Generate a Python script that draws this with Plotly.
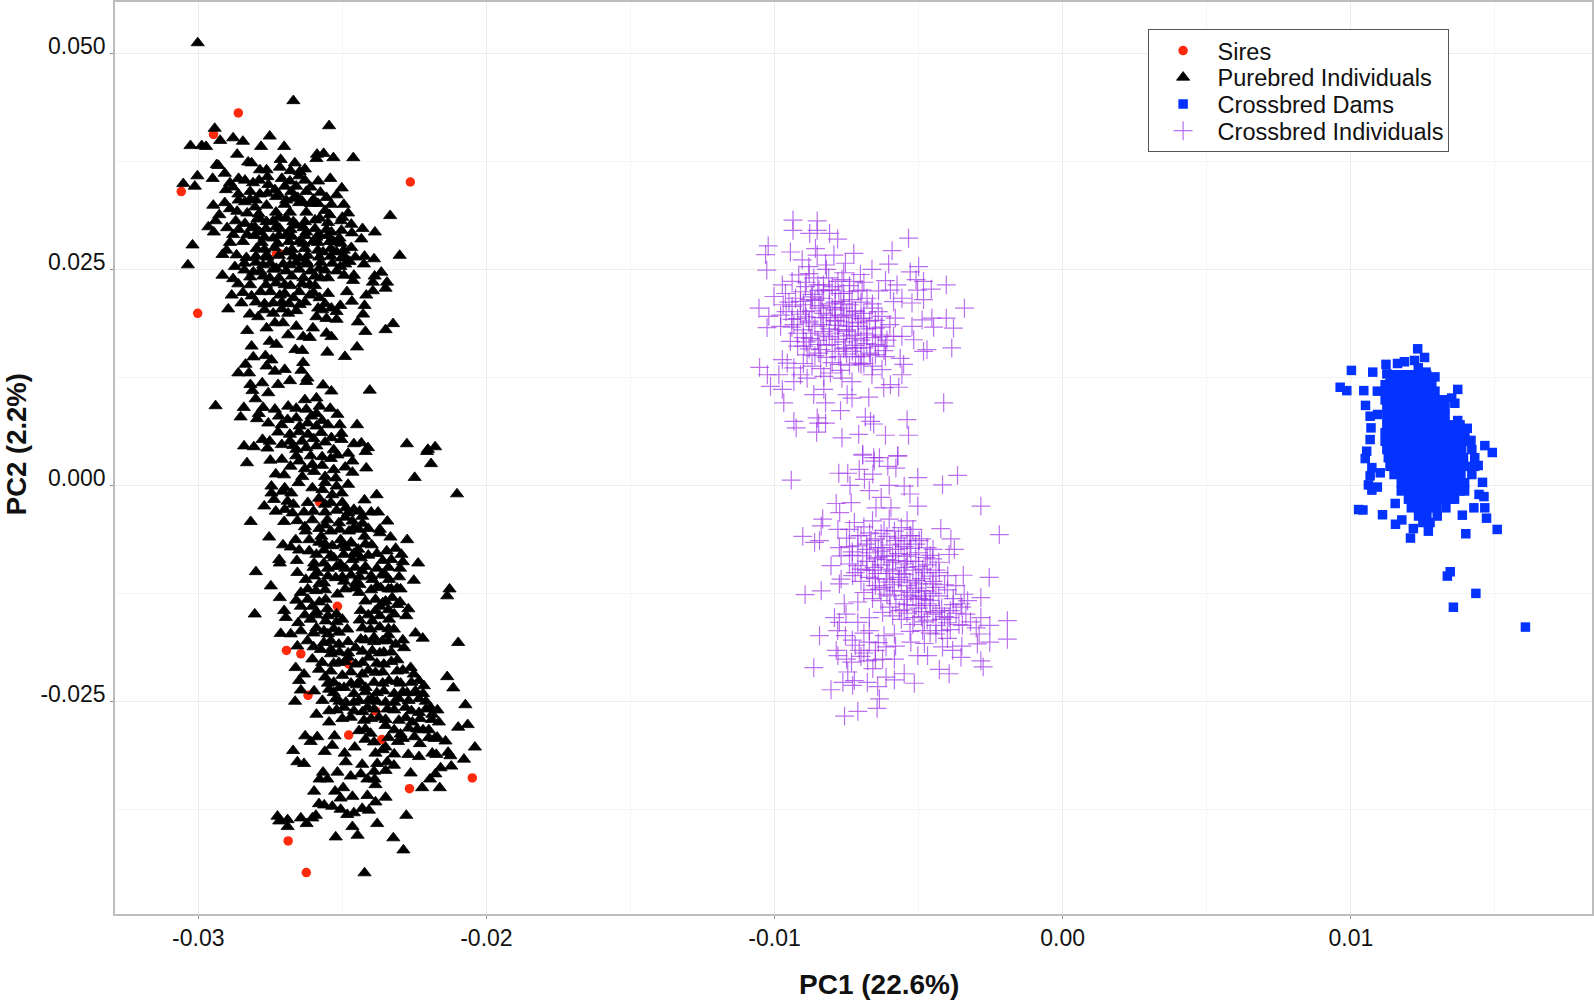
import plotly.graph_objects as go

# All PC values below are in units of 0.001
sire_points = [(-28.61,43.1),(-29.47,40.6),(-30.59,34),(-22.64,35.1),(-30.02,19.9),(-27.29,26.8),(-27.17,26.8),
(-25.79,-1.95),(-26.94,-19.1),(-26.44,-19.5),(-26.19,-24.3),(-25.17,-14),(-24.77,-20.7),(-23.85,-26.1),
(-24.78,-28.9),(-23.63,-29.4),(-22.67,-35.1),(-20.49,-33.85),(-26.88,-41.15),(-26.25,-44.8)]

pure_points = [(-30.02,51.2),(-26.7,44.5),(-25.46,41.6),(-29.43,41.3),(-30.27,39.3),(-29.88,39.3),(-29.73,39.2),(-29.24,39.9),
(-28.79,40.2),(-28.45,39.8),(-27.52,40.4),(-27.82,39.2),(-27.02,39.2),(-28.65,38.3),(-25.88,38.3),(-25.65,38.4),(-25.9,37.8),
(-25.31,37.9),(-24.62,37.9),(-28.27,37.4),(-28.15,37.3),(-27.14,37.7),(-27.17,36.8),(-26.65,37.3),(-29.36,37.1),(-29.3,37.0),
(-29.08,36.1),(-29.5,35.5),(-30.03,35.8),(-30.52,34.9),(-30.12,34.6),(-27.86,36.5),(-27.63,36.5),(-26.48,36.3),(-25.84,35.2),
(-25.42,35.5),(-25.02,34.4),(-28.38,35.3),(-27.89,35.3),(-27.57,34.8),(-26.82,35.2),(-26.3,35.3),(-29.04,34.2),(-28.61,33.7),
(-28.2,34),(-27.86,33.7),(-27.34,34.2),(-26.77,34),(-26.25,34),(-25.76,33.9),(-29.08,32.7),(-29.48,32.4),(-28.65,31.7),(-29.27,31.3),
(-28.38,32.8),(-28.03,32.2),(-27.63,32.4),(-26.82,31.6),(-26.25,31.6),(-25.84,32.6),(-25.38,32.5),(-25.44,31.3),(-23.34,31.2),
(-24.69,30.2),(-25.79,30.9),(-23.87,29.3),(-25.03,29.5),(-24.67,29.2),(-24.34,28.5),(-25.38,29.3),(-29.65,29.9),(-29.46,29.3),
(-29,29.8),(-28.79,29),(-28.38,30.3),(-28.04,29.9),(-27.63,30.5),(-27.17,29.7),(-26.6,30.1),(-26.25,29.3),(-25.8,29),(-25.3,28.2),
(-28.3,29),(-27.87,29.3),(-27.4,28.6),(-26.94,29),(-26.5,28.2),(-30.2,27.8),(-30.36,25.5),(-29.16,26.7),(-29.02,27.2),(-28.67,26.65),
(-28.33,26.35),(-27.98,27.4),(-27.63,26.65),(-26.94,27),(-26.48,26.3),(-26.02,28.2),(-25.67,27),(-25.2,27),(-24.69,27.5),(-24.75,25.9),
(-24.23,26.5),(-23.9,26.2),(-24.25,25.6),(-23.01,26.6),(-25.03,26.3),(-28.73,25.3),(-29.16,24.3),(-28.79,23.9),(-28.09,24.7),
(-27.75,25.5),(-27.29,25.1),(-26.82,25.5),(-26.25,25.9),(-25.8,25.1),(-25.07,25.3),(-24.94,24.3),(-24.6,24.3),(-23.65,24.65),
(-23.88,24.2),(-23.94,23.5),(-23.45,23.5),(-23.5,22.8),(-24.63,23.7),(-28.61,23.3),(-28.2,23.2),(-27.52,24),(-27.0,23.2),(-26.13,23.2),
(-25.75,24),(-28.84,22),(-28.5,21.1),(-28.15,21.9),(-27.84,22.4),(-27.17,22),(-26.7,21.7),(-26.13,22),(-25.79,21.7),(-24.84,22.4),
(-23.94,22.5),(-24.17,22),(-24.67,21.3),(-24.23,20.8),(-28.96,20.4),(-28.21,19.8),(-27.92,19.5),(-27.4,21.1),(-27.4,19.9),(-26.88,19.9),
(-26.48,20.9),(-25.84,20.5),(-25.38,20.5),(-25.07,20.8),(-24.28,19.8),(-25.9,19.5),(-25.55,19.3),(-25.2,19.2),(-24.46,18.9),(-23.24,18.7),
(-23.5,18),(-24.2,17.8),(-28.3,17.9),(-27.63,18.2),(-27.34,18.8),(-27.06,18.8),(-26.6,18.4),(-26.88,17.4),(-26.36,17.2),(-26.13,17.1),
(-26.02,18.2),(-25.55,17.6),(-25.38,17.2),(-28.15,16.1),(-27.52,16.65),(-27.29,16.3),(-26.63,15.7),(-26.39,15.6),(-25.52,15.4),
(-24.49,16),(-24.91,14.9),(-28.09,14.85),(-27.67,15),(-27.46,14.5),(-28.36,14),(-27.63,13.8),(-26.36,14.2),(-28.61,13),(-28.24,13),
(-27.34,13.2),(-27,13.4),(-26.42,13.3),(-26.21,12.4),(-28.19,11.65),(-27.78,11.85),(-27.23,11.65),(-26.82,12.1),(-26.25,12),(-25.67,11.6),
(-25.38,10.9),(-24.05,11),(-28.12,10.95),(-27.57,10.7),(-28.01,10),(-29.4,9.2),(-28.42,9),(-27.75,9),(-27.34,8.8),(-26.88,9.15),(-26.3,9.9),
(-25.9,10.1),(-25.79,9.15),(-25.42,8.9),(-25.17,8.2),(-28.53,7.9),(-27.96,7.7),(-27.57,7.2),(-26.6,7.8),(-26.25,8.8),(-26.07,8),(-25.09,7),
(-24.49,7),(-27.11,7),(-26.48,6.85),(-25.9,6.85),(-27.23,6.15),(-26.82,5.9),(-26.19,5.9),(-25.73,6.1),(-25.03,6),(-27.77,5.3),(-27.52,5.1),
(-26.82,5.1),(-25.38,5.5),(-25.03,5.3),(-24.6,4.8),(-24.34,4.9),(-24.11,4.35),(-22.76,4.8),(-22.03,4.15),(-21.78,4.45),(-28.41,4.55),
(-28.07,4.45),(-26.6,4.15),(-26.25,4.35),(-25.9,4.55),
(-28.31,2.6),(-27.31,1.3),(-27.02,1.2),(-26.5,2.8),(-26.04,2.4),(-25.4,3.1),(-25.17,3.5),(-24.65,2.8),(-24.65,1.5),(-24.17,2.0),(-24.19,3.9),
(-22.06,3.9),(-21.92,2.5),(-22.49,0.9),(-21.02,-1),(-26.39,1),(-25.98,1.6),(-25.23,0.85),(-26.52,0.3),(-27.46,-0.1),(-27.46,-0.9),(-27.08,-0.7),
(-26.77,-0.9),(-27.37,-1.65),(-26.9,-1.85),(-27.71,-2.4),(-27.31,-3),(-26.73,-3.2),(-26.33,-3.1),(-26.04,-0.3),(-25.69,-0.5),(-25.81,-1.5),
(-25.35,-1.1),(-25.02,-0.9),(-25.4,-2),(-25.0,-2),(-24.23,-1.7),(-23.81,-1.1),(-23.76,-3.1),(-24.6,-2.8),(-24.88,-2.6),(-24.31,-3.6),(-23.44,-4.15),
(-28.18,-4.2),(-27.02,-4.2),(-26.56,-4.1),(-26.04,-4),(-25.52,-4),(-25.12,-4.35),(-24.65,-4.15),(-27.54,-6),(-27.06,-6.9),(-26.62,-6.3),(-26.79,-7.15),
(-26.27,-5.3),(-26.15,-6.3),(-25.73,-5.9),(-25.4,-5.3),(-24.77,-5.3),(-24.42,-5.1),(-24.23,-5.9),(-23.98,-6.9),(-23.33,-6),(-22.75,-6.3),(-25.06,-6.3),
(-25.35,-7),(-24.88,-7.2),(-24.45,-7.4),(-23.46,-7.6),(-23.15,-7.3),(-22.95,-8),(-22.9,-8.85),(-22.37,-9),(-26.15,-7.6),(-25.64,-7.5),(-26.58,-8.7),
(-27.17,-9),(-27.19,-8.6),(-25.98,-9),(-25.64,-9),(-25.29,-8.4),(-25.06,-9.15),(-24.65,-8.6),(-24.36,-8.4),(-28,-10),(-26.56,-10.1),(-25.87,-10.1),
(-26.27,-10.9),(-25.98,-10.5),(-25.64,-11.3),(-25.23,-10.7),(-24.31,-9.9),(-23.96,-10.9),(-23.61,-10.3),(-23.38,-10.9),(-23.03,-10.6),(-22.52,-11),
(-24.94,-11.1),(-24.54,-11.3),(-27.48,-11.65),(-26.44,-12.4),(-25.92,-12.2),(-25.17,-12.6),(-24.42,-12.4),(-23.67,-11.85),(-22.98,-12),(-21.28,-12),
(-21.36,-12.8),(-27.17,-13),(-27.02,-14.5),(-26.44,-14),(-26.04,-14),(-25.58,-13.2),(-25.52,-14.3),(-23.85,-13.2),(-23.27,-13),(-23.09,-13.8),
(-22.71,-14.3),(-22.78,-15.1),(-24.36,-14.5),(-23.85,-14.5),(-28.04,-14.9),(-26.96,-15.3),(-26.53,-15.9),(-26.1,-15.5),(-25.58,-15.7),(-25,-15.5),
(-23.96,-15.7),(-23.38,-15.5),(-23.21,-16.65),(-24.83,-16.65),(-27.14,-17.15),(-26.79,-17.2),(-26.44,-16.85),(-25.64,-16.85),(-25.12,-17),(-24.02,-16.65),
(-22.46,-17.1),(-22.21,-17.7),(-20.98,-18.2),(-26.21,-18),(-25.64,-18.2),(-24.36,-17.8),(-23.61,-18),(-23.15,-18.4),(-22.86,-18.8),(-26.56,-18.6),
(-25.75,-19),(-25.12,-18.4),(-24.54,-18.8),(-23.96,-19.15),(-23.56,-19.3),(-25.4,-19.5),(-26.04,-20.1),(-23.09,-20.2),(-26.62,-21.1),(-25.81,-21.3),
(-25.12,-20.5),(-24.54,-20.7),(-24.08,-19.9),(-23.56,-20.7),(-22.63,-21.1),(-22.52,-21.85),(-21.36,-22.15),(-26.33,-21.85),(-25.6,-22.2),(-25,-22),
(-24.31,-21.85),(-23.85,-21.65),(-23.38,-22.6),(-22.98,-22.9),(-22.34,-22.6),(-22.17,-23.2),(-21.15,-23.45),(-26.5,-22.6),(-26.44,-23.7),(-25.98,-23.8),
(-25.46,-23.6),(-24.94,-23.4),(-24.19,-23.4),(-23.56,-23.8),(-22.75,-24),(-22.46,-23.8),(-26.64,-25),(-25.69,-24.9),(-25.23,-24.7),(-24.88,-25.1),
(-24.42,-24.9),(-23.96,-24.7),(-23.5,-25.1),(-23.04,-24.7),(-22.34,-24.7),(-21.94,-25.7),(-20.73,-25.4),(-25.9,-26.5),(-25.46,-26.1),(-24.94,-25.7),
(-24.13,-25.7),(-23.44,-25.9),(-22.81,-25.7),(-22.34,-26.3),(-21.88,-26.5),(-25.46,-27.4),(-24.71,-26.85),(-24.25,-27.2),(-23.73,-26.85),(-23.04,-27.2),
(-22.57,-27.4),(-21.65,-27.4),(-20.98,-28),(-20.65,-27.7),(-24.42,-28.4),(-24.02,-28.7),(-23.5,-27.8),(-22.98,-28.8),(-22,-28.3),(-21.71,-29.15),
(-21.42,-29.6),(-26.29,-29),(-25.87,-29.1),(-25.27,-29),(-26.1,-29.65),(-25.35,-30.1),(-23.07,-29.65),(-22.31,-29.9),(-20.4,-30.3),(-26.71,-30.7),
(-25.61,-30.8),(-24.92,-31),(-24.57,-30.3),(-23.85,-31),(-23.5,-30.3),(-22.71,-31.15),(-22.34,-31.4),(-21.88,-31),(-21.74,-31.15),(-21.33,-30.9),
(-21.25,-31.3),(-20.78,-31.7),(-26.56,-32),(-26.33,-32.2),(-24.88,-32),(-24.31,-32.3),(-23.79,-32.2),(-23.44,-32),(-23.21,-32.4),(-21.22,-32.5),
(-21.59,-32.7),(-25.17,-33.2),(-25.67,-33.2),(-22.63,-33.3),(-21.77,-33.4),(-24.71,-33.65),(-24.36,-33.4),(-25.79,-34),(-25.52,-34),(-23.88,-34),
(-24.13,-34),(-21.96,-34),(-23.85,-34.65),(-22.23,-35),(-21.62,-35),(-25.98,-35.4),(-25.25,-35.4),(-24.97,-35),(-25.06,-36.2),(-24.65,-36),(-24.13,-35.9),
(-23.5,-36.1),(-23.85,-36.65),(-25.81,-36.85),(-25.63,-37),(-25.35,-37.15),(-25.06,-37.5),(-24.31,-37.4),(-24.08,-37.6),(-25.92,-38.2),(-24.83,-38.1),
(-24.6,-37.9),(-22.78,-38.2),(-27.25,-38.3),(-27.19,-38.85),(-26.9,-38.7),(-26.9,-39.5),(-26.44,-38.5),(-26.24,-39.15),(-26.04,-38.5),(-23.79,-39.15),
(-24.65,-39.5),(-24.47,-40.5),(-25.23,-40.7),(-23.23,-40.8),(-22.88,-42.2),(-24.23,-44.85),
# dense cores, upper cluster
(-28,33),(-27.3,33.4),(-26.95,33),(-26.55,33.3),(-26,33.1),(-25.55,33.3),(-27.9,31.4),(-27.3,31.6),(-27,32.5),(-26.5,32.7),(-26.1,32.6),(-25.6,31.8),
(-28.7,30.6),(-27.95,30.8),(-27.4,30.6),(-26.95,30.9),(-26.3,30.5),(-25.95,30.7),(-25.5,30.4),(-25.05,30.6),
(-28.6,29.6),(-28.15,29.8),(-27.65,29.7),(-27.3,29.9),(-26.8,29.6),(-26.35,29.8),(-25.95,29.7),(-25.55,29.6),
(-28.05,28.9),(-27.7,28.7),(-27.2,28.9),(-26.75,28.8),(-26.3,28.9),(-25.9,28.7),(-25.5,28.9),(-25.1,28.6),
(-28.9,28.1),(-28.45,28.2),(-27.8,28.1),(-27.25,28),(-26.85,28.2),(-26.35,28),(-25.85,28.1),(-25.45,28.2),(-25.05,28),
(-27.7,27.3),(-27.35,27.5),(-26.75,27.3),(-26.3,27.4),(-25.85,27.2),(-25.4,27.4),(-24.95,27.2),
(-28,26.5),(-27.6,26.4),(-27.2,26.6),(-26.7,26.5),(-26.2,26.6),(-25.8,26.4),(-25.4,26.5),(-24.95,26.6),(-24.55,26.4),
(-28.4,25.7),(-28,25.8),(-27.5,25.7),(-27.05,25.6),(-26.6,25.8),(-26.2,25.6),(-25.75,25.8),(-25.35,25.7),(-24.9,25.6),
(-28.4,24.9),(-27.85,24.8),(-27.4,25),(-26.95,24.8),(-26.5,25),(-26.1,24.8),(-25.6,24.9),(-25.2,24.8),
(-28.2,24.1),(-27.75,24.2),(-27.2,24),(-26.75,24.2),(-26.35,24),(-25.95,24.2),(-25.5,24),
(-27.65,23.2),(-27.3,23.4),(-26.8,23.1),(-26.4,23.3),(-25.95,23.1),
(-28.45,22.3),(-27.5,22.4),(-27,22.2),(-26.5,22.4),(-26,22.3),(-25.5,22.2),
(-28,21.2),(-27.7,21),(-27.1,21.2),(-26.85,21),(-26.3,21.2),(-25.6,21),(-27.7,20.3),(-27.1,20.4),(-26.6,20.2),(-25.7,20.3),(-25.2,20.1),
(-28.9,35),(-28.6,35.5),(-28.8,34.5),(-28.1,35),(-27.6,35.7),(-27.1,35.5),(-27,34.6),(-26.6,34.6),(-26.5,35.8),(-26.1,34.5),(-26.8,36.4),(-26.3,36.6),
(-28.6,33),(-28.2,33.1),(-27.6,33.8),(-27.2,33.6),(-26.4,32.9),(-26.7,33.2),(-25.2,33.6),(-24.95,32.5),(-24.8,31.5),(-25,31),(-24.3,29.7),(-28.9,32),
(-28.3,31.5),(-27.2,31),(-26.7,30.5),(-27.9,31),(-29.4,30.6),
# neck
(-27.9,8.3),(-27.2,8),(-26.9,7.6),(-26.6,8.9),(-26.2,7.2),(-25.9,8.3),(-25.7,7.5),(-25.5,7),(-26.5,6.2),(-26,5.4),(-25.6,5),(-26.4,5.1),(-26.7,4.6),
(-27.1,4.7),(-27.6,4.3),(-26.1,3.4),(-26.6,3.4),(-25.7,3.3),(-25.3,4.1),(-24.8,3.7),(-27.1,3),(-27.5,2.9),(-26.8,2.2),(-26.3,1.9),(-25.7,2.3),(-25.3,1.8),
(-24.9,2.1),(-25.6,1),(-25.6,0.3),(-25.2,-0.1),(-24.8,0.1),
# dense cores, lower cluster
(-26,-3),(-25.6,-3.1),(-25.2,-2.9),(-24.8,-3.2),(-24.4,-3),(-24,-3.1),(-25.8,-5),(-25.1,-5.1),(-24.6,-4.9),(-24.1,-5),(-23.7,-5.1),
(-25.6,-6.8),(-25,-6.9),(-24.7,-6.7),(-24.2,-6.8),(-25.9,-8),(-25.4,-8.1),(-24.95,-8),(-24.5,-7.9),(-24.1,-8.1),
(-26,-9.5),(-25.5,-9.6),(-25.2,-9.4),(-24.9,-9.6),(-24.55,-9.5),(-24.2,-9.4),(-23.8,-9.6),(-23.4,-9.5),(-23,-9.6),
(-25.5,-10.5),(-25,-10.6),(-24.7,-10.4),(-24.4,-10.6),(-24,-10.5),(-23.5,-10.4),(-26.2,-12),(-25.6,-12.1),(-24.9,-12),(-24.6,-11.9),(-24,-12.1),(-23.4,-12),(-23.1,-11.9),
(-25.8,-13.5),(-24.2,-13.4),(-23.6,-13.6),(-23.5,-13.4),(-23,-13.5),(-25.9,-15),(-25.5,-15.1),(-25.2,-14.9),(-24.1,-15),(-23.7,-15.1),(-23.2,-14.9),
(-25.9,-16.5),(-25.3,-16.6),(-24.3,-16.5),(-23.7,-16.4),(-23.4,-16.6),(-25.4,-18),(-24.8,-18.1),(-24.2,-17.9),(-23.9,-18.1),(-23.4,-18),
(-25.1,-19.3),(-24.8,-19.4),(-24.3,-19.2),(-23.7,-19.4),(-23.3,-19.3),(-25.7,-20.5),(-25.3,-20.6),(-24.9,-20.4),(-24.3,-20.5),(-23.8,-20.6),(-23.3,-20.4),
(-25.4,-21.5),(-24.7,-21.6),(-24.1,-21.4),(-23.6,-21.6),(-23.1,-21.5),(-22.9,-21.4),(-25.3,-22.8),(-24.7,-22.9),(-24.4,-22.7),(-23.9,-22.8),(-23.6,-22.9),(-23.1,-22.7),(-22.6,-22.8),
(-25.3,-24),(-24.6,-24.1),(-24.2,-23.9),(-23.8,-24),(-23.2,-24.1),(-22.9,-23.9),(-22.5,-24),(-22.2,-24.1),(-25.1,-25),(-24.6,-25.1),(-24.1,-24.9),(-23.8,-25),(-23.2,-25.1),(-22.7,-24.9),(-22.1,-25),
(-25.2,-26),(-24.6,-26.1),(-23.9,-25.9),(-23.2,-26),(-22.6,-26.1),(-22.1,-25.9),(-21.7,-26),(-24,-27),(-23.5,-27.1),(-22.8,-26.9),(-22.3,-27),(-21.9,-27.1),
(-24.2,-28.2),(-23.2,-28.3),(-22.7,-28.1),(-22.4,-28.2),(-22.2,-28.3),(-23.4,-29.2),(-22.9,-29.3),(-22.5,-29.1),(-22,-29.2),(-21.8,-29.3),
(-27,-0.3),(-26.7,-2.2),(-27,-2.8),(-26.2,-2),(-25.6,-2.2),(-26.3,-4.8),(-25.8,-6.6),(-26.5,-7.5),(-25.6,-4.6),(-24.9,-3.7),(-24.3,-4.4),(-24.7,-6.6),(-24.6,-7.9),
(-23.8,-7.9),(-23.6,-8.7),(-23.3,-8.6),(-23.7,-5.5),(-25.8,-11.4),(-26.2,-13.2),(-25.9,-14.6),(-26.3,-15),(-26.6,-13.3),(-24.4,-11.5),(-23.8,-11.7),(-23.3,-12),
(-23.7,-14),(-23.4,-14.4),(-25.2,-15.8),(-25.5,-17.2),(-26,-17.1),(-26,-18.7),(-25.4,-19),(-24.4,-15.6),(-23.9,-17.6),(-23.4,-17.3),(-22.9,-17.9),(-24.8,-19.9),
(-25.5,-22.9),(-25.1,-23.4),(-24.5,-23.1),(-25,-27),(-24.3,-26.2),(-24.2,-29.4),(-23.9,-29.7),(-23.6,-30.6),(-23.2,-31.1),(-23.9,-33.1),(-23.5,-33)]

dam_points = [(12.32,15.8),(12.56,14.8),(10.02,13.3),(10.76,13.1),(11.22,14),(11.62,14.1),(11.86,14.3),(12.21,14.45),(12.34,13.6),(11.25,12.9),
(12.61,13.1),(12.92,12.55),(9.63,11.35),(9.86,10.96),(10.45,10.96),(11.19,11.65),(10.92,10.9),(13.71,11.1),(13.61,9.5),(13.5,10.1),(10.51,9.25),
(10.67,8),(10.93,8.2),(13.71,7.5),(14.04,6.6),(10.7,6.65),(14.17,5.2),(10.67,5.3),(14.65,4.6),(14.91,3.8),(10.55,3.95),(10.5,3.1),(14.42,2.3),
(10.73,2.05),(10.67,1.1),(11.02,1.45),(14.57,0.35),(10.61,0.05),(10.92,-0.2),(10.73,-0.55),(14.45,-1.05),(14.62,-1.3),(14.27,-2.6),(14.65,-2.6),
(14.71,-3.8),(15.08,-5.1),(13.99,-5.6),(13.87,-3.45),(10.27,-2.8),(10.42,-2.85),(11.1,-3.4),(11.54,-2.1),(11.77,-4),(11.55,-4.5),(12.17,-5),
(12.69,-5.3),(12.07,-6.1),(13.45,-10),(13.35,-10.5),(14.34,-12.5),(13.56,-14.1),(16.06,-16.4),
(11.48,12.8),(11.77,12.8),(12.05,12.8),(12.34,12.8),(12.63,12.8),
(11.36,11.85),(11.65,11.85),(11.94,11.85),(12.23,11.85),(12.52,11.85),(12.81,11.85),
(11.19,10.9),(11.48,10.9),(11.77,10.9),(12.05,10.9),(12.34,10.9),(12.63,10.9),(12.92,10.9),
(11.19,9.9),(11.48,9.9),(11.77,9.9),(12.05,9.9),(12.34,9.9),(12.63,9.9),(12.92,9.9),(13.2,9.9),
(11.25,9),(11.54,9),(11.82,9),(12.11,9),(12.4,9),(12.69,9),(12.98,9),(13.27,9),
(11.25,8),(11.54,8),(11.82,8),(12.11,8),(12.4,8),(12.69,8),(12.98,8),(13.27,8),
(11.25,7),(11.54,7),(11.82,7),(12.11,7),(12.4,7),(12.69,7),(12.98,7),(13.27,7),(13.56,7),(13.79,7),
(11.19,6.1),(11.48,6.1),(11.77,6.1),(12.05,6.1),(12.34,6.1),(12.63,6.1),(12.92,6.1),(13.2,6.1),(13.5,6.1),(13.79,6.1),(13.96,6.1),
(11.19,5.1),(11.48,5.1),(11.77,5.1),(12.05,5.1),(12.34,5.1),(12.63,5.1),(12.92,5.1),(13.2,5.1),(13.5,5.1),(13.79,5.1),(14.05,5.1),
(11.25,4.15),(11.54,4.15),(11.82,4.15),(12.11,4.15),(12.4,4.15),(12.69,4.15),(12.98,4.15),(13.27,4.15),(13.56,4.15),(13.85,4.15),(14.2,4.15),
(11.3,3.2),(11.59,3.2),(11.88,3.2),(12.17,3.2),(12.46,3.2),(12.75,3.2),(13.04,3.2),(13.33,3.2),(13.62,3.2),(13.91,3.2),(14.3,3.2),
(11.36,2.2),(11.65,2.2),(11.94,2.2),(12.23,2.2),(12.52,2.2),(12.81,2.2),(13.1,2.2),(13.39,2.2),(13.68,2.2),(13.97,2.2),(14.3,2.2),
(11.5,1.25),(11.79,1.25),(12.08,1.25),(12.37,1.25),(12.66,1.25),(12.95,1.25),(13.24,1.25),(13.53,1.25),(13.82,1.25),(14.2,1.25),
(11.75,0.3),(12.04,0.3),(12.33,0.3),(12.62,0.3),(12.91,0.3),(13.2,0.3),(13.49,0.3),(13.78,0.3),(13.95,0.3),
(11.75,-0.65),(12.04,-0.65),(12.33,-0.65),(12.62,-0.65),(12.91,-0.65),(13.2,-0.65),(13.49,-0.65),(13.78,-0.65),(13.95,-0.65),
(12,-1.6),(12.29,-1.6),(12.58,-1.6),(12.87,-1.6),(13.16,-1.6),(13.45,-1.6),(13.6,-1.6),
(12.1,-2.6),(12.39,-2.6),(12.68,-2.6),(12.97,-2.6),(13.3,-2.6),
(12.35,-3.55),(12.64,-3.55),(13,-3.55),(12.5,-4.3),(12.75,-4.3)]

cross_points = [(-9.36,30.7),(-8.52,30.6),(-9.36,29.5),(-8.78,29.15),(-8.52,29.5),(-8.09,29.15),(-7.81,28.5),(-5.35,28.6),(-10.22,27.7),(-10.31,26.7),
(-10.27,24.9),(-9.45,27),(-8.58,27.4),(-9.04,26.1),(-8.52,26.65),(-7.94,26.65),(-7.25,26.85),(-7.54,25.7),(-5.92,27.15),(-6.04,25.6),(-5,25.3),(-5.29,24.7),
(-6.62,25),(-7.02,24.4),(-6.15,23.7),(-5.75,23.2),(-5.09,23.8),(-4.83,23.6),(-4.56,22.7),(-4.04,23.2),(-3.41,20.5),(-8.81,25.3),(-8.23,25.5),(-9.16,24.35),
(-8.64,24),(-8.12,24),(-7.66,23.8),(-7.25,23.6),(-9.73,23.2),(-9.39,23.6),(-8.93,23),(-8.46,22.6),(-7.89,22.6),(-6.96,22.6),(-6.39,22.5),(-5.98,22.6),
(-10.02,21.85),(-9.62,22.2),(-9.27,21.65),(-8.75,21.5),(-8.35,21.65),(-7.77,22.2),(-7.31,21.5),(-6.79,21.65),(-5.58,21.65),(-5.04,22.6),(-5.23,21.1),
(-4.83,21.5),(-5.87,21.25),(-10.54,20.5),(-10.2,19.55),(-9.79,19.7),(-9.39,20.7),(-8.93,20.1),(-8.46,20.5),(-8.06,19.7),(-7.66,20.5),(-7.19,20.1),
(-6.62,20.5),(-6.27,19.55),(-5.81,19.35),(-4.88,19.15),(-4.54,19.35),(-4.04,19.35),(-3.79,18.2),(-4.48,18.3),(-5.23,18.4),(-10.26,18.25),(-9.79,18.4),
(-9.33,18.6),(-8.81,18.8),(-8.35,18.6),(-7.89,19),(-7.42,18.4),(-6.91,19.35),(-6.5,18.2),(-9.21,17.6),(-8.75,17),(-8.29,17.4),(-7.77,18),(-7.31,17.4),
(-6.79,17.4),(-6.27,17.4),(-5.87,17.25),(-5.58,17.25),(-5.17,16.85),(-9.45,16.65),(-8.98,16.1),(-8.46,16.3),(-8,16.3),(-7.54,15.9),(-7.14,15.9),(-6.5,16.3),
(-6.15,16.1),(-4.83,15.5),(-3.85,15.9),(-4.71,15.7),(-8.87,15.1),(-8.46,15.3),(-7.77,14.9),(-7.19,14.9),(-6.67,15.1),(-6.15,14.9),(-5.64,14.7),(-9.73,14.55),
(-9.56,14.15),(-7.71,14),(-7.08,14.15),(-5.52,14),(-10.52,13.65),(-9.33,13.6),(-6.27,13.4),(-10.25,12.8),(-9.85,12.8),(-9.1,12.8),(-8.87,12.4),(-8.29,12.6),
(-8.06,13),(-7.31,12),(-7.66,12.4),(-6.62,12.8),(-5.58,12.8),(-9.33,12),(-10.14,11.45),(-9.73,11.1),(-8.29,11.1),(-8.64,10.5),(-7.48,10.5),(-6.73,10.2),
(-6.21,11.3),(-5.69,11.35),(-5.98,11.65),(-9.68,9.55),(-8.23,9.55),(-7.71,8.65),(-7.31,10.1),(-4.13,9.55),(-9.33,7.4),(-9.25,6.65),(-8.52,7.8),(-8.47,7.2),
(-8.23,7.2),(-8.54,6.15),(-6.85,7.9),(-6.67,7.4),(-6.56,7.1),(-5.4,7.6),(-7.66,5.5),(-7.08,5.9),(-6.15,5.8),(-5.35,5.8),(-6.94,3.6),(-6.56,3.2),(-5.72,3.4),
(-6.94,3.5),(-5.73,3.4),(-6.54,2.8),(-6.36,3.2),(-7.77,1.4),(-7.46,1.4),(-7.06,1.85),(-6.59,1.3),(-6.07,2.2),(-5.79,2),(-5.03,0.9),(-3.65,1.15),(-9.42,0.6),
(-4.17,0.05),(-7.38,0),(-6.88,0.7),(-6.02,0),(-5.5,-0.1),(-6.71,-0.6),(-5.3,-1),(-6.3,-1.4),(-2.84,-2.4),(-7.86,-2.1),(-7.34,-2),(-5.03,-2.4),(-6.48,-2.6),
(-7.74,-3.15),(-5.96,-2.6),(-8.33,-3.9),(-2.2,-5.7),(-4.23,-5),(-8.38,-4.7),(-7.8,-5.1),(-7.23,-4.3),(-6.6,-4.1),(-6.02,-3.9),(-5.4,-4.1),(-9.02,-5.9),
(-3.88,-6.2),(-8.44,-6.4),(-8.61,-6.6),(-7.75,-7.2),(-7.11,-5.85),(-7.11,-7),(-6.65,-6.4),(-5.84,-5.3),(-5.27,-5.85),(-4.98,-6.4),(-6.25,-7.2),(-5.61,-6.8),
(-3.76,-7.4),(-3.94,-8),(-7.69,-8.15),(-6.94,-8.15),(-6.42,-8.35),(-5.9,-8.15),(-5.27,-8),(-4.75,-8.35),(-4.51,-8.5),(-8.04,-9.3),(-7.11,-9.3),(-6.54,-9.5),
(-6.02,-9.7),(-5.44,-9.5),(-4.86,-9.7),(-4.28,-10.1),(-3.45,-10.4),(-2.55,-10.65),(-3.99,-10.45),(-7.69,-10.85),(-7.29,-10.45),(-6.71,-10.65),(-6.13,-10.85),
(-5.67,-10.65),(-5.09,-11),(-4.51,-11.4),(-3.71,-11.6),(-7.75,-11.4),(-8.38,-12.2),(-8.94,-12.65),(-6.36,-12),(-5.84,-12.2),(-5.27,-12.4),(-4.75,-12.2),
(-3.42,-12.6),(-2.84,-13),(-3.3,-13.35),(-7.11,-13.5),(-7.58,-13.7),(-6.31,-13.35),(-5.79,-13.7),(-5.09,-13.9),(-4.75,-13.7),(-3.53,-13.7),(-4.28,-14.5),
(-7.52,-14.9),(-7.92,-15.3),(-6.71,-15.3),(-6.25,-14.7),(-5.67,-14.5),(-5.15,-15.3),(-3.94,-15.3),(-2.84,-15.3),(-3.36,-14.9),(-7.75,-15.85),(-7.11,-15.85),
(-1.92,-15.65),(-2.53,-16.2),(-3.48,-16.2),(-7.81,-16.8),(-8.44,-17.4),(-7.54,-17.4),(-6.71,-16.8),(-5.84,-17.2),(-4.86,-16.8),(-4.4,-17.2),(-2.9,-17.2),
(-1.92,-17.8),(-2.53,-18.15),(-2.96,-18.35),(-6.71,-18.15),(-6.13,-18.7),(-5.27,-18.15),(-4.17,-18.7),(-3.82,-19.1),(-7.86,-19.1),(-7.06,-19.1),(-3.53,-19.9),
(-7.8,-19.7),(-7.33,-20.45),(-6.77,-20.3),(-6.25,-20.1),(-5.84,-20.1),(-5.03,-19.7),(-4.69,-19.7),(-2.84,-20.3),(-2.76,-21),(-8.64,-21.1),(-4.28,-21.3),
(-3.94,-21.8),(-6.59,-21.2),(-7.46,-21.6),(-6.13,-22.2),(-5.5,-21.8),(-5.84,-22.5),(-5.15,-22.9),(-7.23,-22.6),(-7.63,-22.8),(-6.78,-22.8),(-6.42,-23.3),
(-8.04,-23.65),(-7.29,-23.15),(-6.36,-24.7),(-6.44,-25.8),(-7.11,-26.15),(-7.57,-26.7),
# dense core, upper
(-8.9,23.5),(-8.3,23.2),(-7.8,23.6),(-7.4,23.1),(-9.1,22.4),(-8.7,22.1),(-8.1,22.6),(-7.6,22.2),(-7.1,22.5),(-9.5,21.2),(-9,20.9),(-8.6,21.4),(-8.1,21),(-7.7,21.3),
(-7.4,20.9),(-7,21.2),(-6.6,21),(-9.6,20.1),(-9.1,19.8),(-8.7,20.2),(-8.3,19.9),(-7.9,20.3),(-7.5,19.8),(-7.2,20.2),(-6.9,19.9),(-6.4,20.1),(-9.2,19.3),(-8.8,19),(-8.2,19.4),
(-7.9,19.1),(-7.6,19.4),(-7.3,18.9),(-7,19.3),(-6.7,19),(-9.4,18.3),(-9,18),(-8.6,18.4),(-8.1,18.1),(-7.8,18.5),(-7.5,18),(-7.1,18.4),(-6.8,18.1),(-6.3,18.3),
(-9,17.1),(-8.5,16.8),(-8.1,17.2),(-7.8,16.9),(-7.4,17.3),(-7,16.8),(-6.6,17.1),(-6.1,16.8),(-9.2,16.1),(-8.8,15.8),(-8.2,16.2),(-7.6,15.8),(-7.2,16.2),(-6.9,15.9),(-6.4,16.1),
(-8.6,15),(-8.2,14.8),(-7.5,15.2),(-7,14.9),(-6.5,15.1),(-9,14.1),(-8.7,13.8),(-8,14.2),(-7.4,13.9),(-6.9,14.1),(-6.6,13.8),
(-8.7,21.8),(-8.4,20.8),(-8.0,20.6),(-7.6,21),(-7.3,19.6),(-7.7,19.6),(-8.4,19.4),(-8.9,19.5),(-7.1,18.8),(-7.5,17.8),(-7.9,17.6),(-8.3,17.8),(-8.7,17.6),(-7.2,17),(-6.9,17.6),
(-7.6,16.6),(-7.9,15.5),(-7.3,15.5),(-6.8,16.4),(-8.4,15.7),(-8.9,16.6),(-7.4,22.4),(-7.9,21.2),(-8.3,22.5),(-6.5,19.1),(-6.3,17.2),(-6,18.6),(-6.7,15.3),(-6.2,15.6),(-9.4,19.2),
(-9.7,20.9),(-8,23),(-8.5,23.2),(-7.6,24.6),(-8.2,25),(-8.8,24.5),(-9.1,21.3),(-6.9,23.5),(-7,14),(-8.4,13.5),(-7.7,13.3),
# dense core, lower
(-7.4,-5.1),(-6.9,-4.8),(-6.2,-5.2),(-5.6,-4.9),(-5.2,-5.1),(-7.5,-6.1),(-7,-5.8),(-6.5,-6.2),(-6.1,-5.9),(-5.7,-6.1),(-5.3,-5.8),(-4.9,-6.2),(-7.4,-7.1),(-6.8,-6.8),(-6.4,-7.2),
(-6,-6.9),(-5.5,-7.1),(-5.1,-6.8),(-4.7,-7.2),(-7.3,-8.1),(-6.7,-7.8),(-6.2,-8.2),(-5.7,-7.9),(-5.4,-8.2),(-5,-7.8),(-4.6,-8.1),(-7.4,-9.1),(-6.8,-8.8),(-6.3,-9.2),(-5.9,-8.9),
(-5.5,-9.1),(-5.1,-8.8),(-4.7,-9.2),(-4.3,-8.9),(-7.2,-10.1),(-6.8,-9.8),(-6.4,-10.2),(-5.9,-9.9),(-5.6,-10.2),(-5.2,-9.8),(-4.8,-10.1),(-4.4,-9.8),(-7,-11.1),(-6.5,-10.8),(-6,-11.2),
(-5.7,-10.9),(-5.3,-11.2),(-4.9,-10.8),(-4.5,-11.1),(-6.6,-12.1),(-6.2,-11.8),(-5.6,-12.2),(-5.1,-11.9),(-4.9,-12.2),(-4.4,-11.8),(-4,-12.1),(-6.6,-13.1),(-6,-12.8),(-5.5,-13.2),
(-5.2,-12.9),(-4.8,-13.2),(-4.3,-12.8),(-3.8,-13.1),(-6,-14.1),(-5.4,-13.8),(-5,-14.2),(-4.6,-13.9),(-4.2,-14.2),(-3.8,-13.8),(-3.5,-14.1),(-5.9,-15.1),(-5.4,-14.8),(-4.9,-15.2),
(-4.5,-14.9),(-4.1,-15.2),(-3.7,-14.8),(-5.2,-16.1),(-4.8,-15.8),(-4.4,-16.2),(-4,-15.9),(-3.6,-16.1),(-6.9,-17.1),(-5.3,-16.9),(-4.6,-17.1),(-4.2,-16.8),(-7.2,-18.5),(-6.4,-18.2),
(-5.8,-18.6),(-4.8,-18.3),(-3.5,-18.6),(-7.5,-20.1),(-7,-19.8),(-6.5,-20.2),
(-6.5,-8.5),(-6.1,-8.6),(-5.8,-8.7),(-5.4,-8.8),(-5,-9.4),(-5.5,-10.3),(-6.1,-10.2),(-6.6,-9.8),(-5.9,-11.5),(-5.4,-11.6),(-5.0,-11.4),(-4.6,-10.5),(-4.9,-12.8),(-5.4,-12.7),(-6.1,-12.6),
(-4.5,-12.5),(-4.1,-11.5),(-4.6,-13.3),(-5.0,-13.1),(-5.5,-14.4),(-4.9,-14.6),(-4.4,-14.7),(-3.9,-14.5),(-4.7,-15.6),(-4.2,-15.5),(-5.6,-15.5),(-6.8,-7.4),(-6.3,-7.6),(-5.8,-7.4),(-5.3,-7.3),
(-7,-9.7),(-7.3,-7.7),(-6.7,-5.5),(-6.3,-5.6),(-5.8,-6.4),(-5.4,-6.4),(-4.5,-7.4),(-6.5,-11.6),(-6.9,-12.4),(-3.9,-16.7),(-4,-17.7),(-3.2,-15.8),(-3,-16.5),(-6.9,-19.4),(-6.5,-19.1),(-6.2,-17.4),(-7.3,-17.9)]

x_ticks = [-0.03, -0.02, -0.01, 0.0, 0.01]
x_tick_labels = ["-0.03", "-0.02", "-0.01", "0.00", "0.01"]
y_ticks = [-0.025, 0.0, 0.025, 0.05]
y_tick_labels = ["-0.025", "0.000", "0.025", "0.050"]


def unpack(points):
    return [p[0] / 1000 for p in points], [p[1] / 1000 for p in points]


fig = go.Figure()
for name, points, marker in [
    ("Sires", sire_points, dict(symbol="circle", size=9.5, color="#ff2a0c")),
    ("Purebred Individuals", pure_points, dict(symbol="triangle-up", size=11.5, color="#000000", line=dict(color="#000000", width=0.8))),
    ("Crossbred Dams", dam_points, dict(symbol="square", size=9.5, color="#0433ff")),
    ("Crossbred Individuals", cross_points,
     dict(symbol="cross-thin", size=13.5, color="#9a2fe8", opacity=0.68, line=dict(color="#9a2fe8", width=1.2))),
]:
    xs, ys = unpack(points)
    fig.add_trace(go.Scatter(x=xs, y=ys, mode="markers", name=name, marker=marker))

grid = "#ececec"
minor_grid = "#f4f4f4"
axis_line = "#bdbdbd"
fig.update_layout(
    width=1594, height=1001, autosize=False,
    margin=dict(l=115, r=0, t=0, b=87, pad=0),
    paper_bgcolor="white", plot_bgcolor="white",
    font=dict(family="Liberation Sans, Arial, sans-serif", color="#111111", size=23),
    xaxis=dict(range=[-0.03289, 0.01837], tickmode="array", tickvals=x_ticks, ticktext=x_tick_labels,
               showgrid=True, gridcolor=grid, gridwidth=1, zeroline=False,
               minor=dict(dtick=0.005, tick0=0, showgrid=True, gridcolor=minor_grid, gridwidth=1, ticks=""),
               showline=True, linecolor=axis_line, linewidth=1.5, mirror=True,
               ticks="outside", ticklen=3, tickcolor="#8f8f8f", tickwidth=1,
               tickfont=dict(size=23), ticklabelstandoff=0),
    yaxis=dict(range=[-0.0496, 0.05593], tickmode="array", tickvals=y_ticks, ticktext=y_tick_labels,
               showgrid=True, gridcolor=grid, gridwidth=1, zeroline=False,
               minor=dict(dtick=0.0125, tick0=0, showgrid=True, gridcolor=minor_grid, gridwidth=1, ticks=""),
               showline=True, linecolor=axis_line, linewidth=1.5, mirror=True,
               ticks="outside", ticklen=3, tickcolor="#8f8f8f", tickwidth=1,
               tickfont=dict(size=23), ticklabelshift=-7, ticklabelstandoff=0),
    legend=dict(x=(1149 - 115) / 1479, y=1 - 27.5 / 914, xanchor="left", yanchor="top",
                bgcolor="white", bordercolor="#555555", borderwidth=1,
                font=dict(size=23.5, color="#111111"), itemwidth=59, traceorder="normal"),
    annotations=[
        dict(text="<b>PC1 (22.6%)</b>", xref="paper", yref="paper", x=(880 - 115) / 1479, y=-(985 - 914) / 914,
             showarrow=False, xanchor="center", yanchor="middle", font=dict(size=28, color="#111111")),
        dict(text="<b>PC2 (2.2%)</b>", xref="paper", yref="paper", x=-(115 - 16) / 1479, y=1 - 443 / 914,
             showarrow=False, xanchor="center", yanchor="middle", textangle=-90, font=dict(size=27.5, color="#111111")),
    ],
)

# Tighten the legend rows to the spacing of the reference once the page is drawn
post = """
document.body.style.margin='0';
document.documentElement.style.overflow='hidden';
var gd=document.getElementById('{plot_id}');
function tightenLegend(){
  var rows=gd.querySelectorAll('.legend .traces');
  rows.forEach(function(g,i){
    var m=/translate\\(([-\\d.]+)[ ,]+([-\\d.]+)\\)/.exec(g.getAttribute('transform')||'');
    if(!m) return;
    if(!g.dataset.y0) g.dataset.y0=rows[0].dataset.y0||m[2];
    g.setAttribute('transform','translate('+m[1]+','+(parseFloat(g.dataset.y0)-1.6+i*26.7)+')');
  });
  var bg=gd.querySelector('.legend .bg');
  if(bg){bg.setAttribute('height','122');bg.setAttribute('width','300');bg.style.height='122px';bg.style.width='300px';}
}
tightenLegend();
gd.on('plotly_afterplot',tightenLegend);
setTimeout(tightenLegend,50);
"""
fig.write_html("out.html", config={"displayModeBar": False}, post_script=post)
